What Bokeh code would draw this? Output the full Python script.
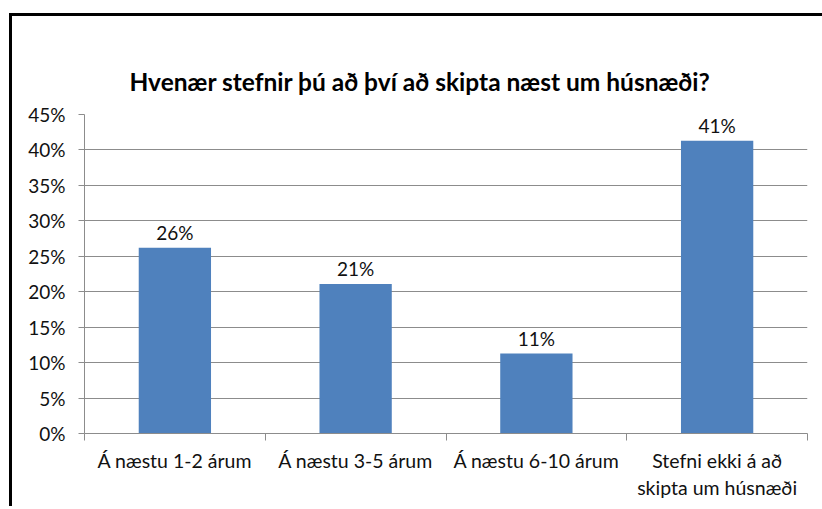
from bokeh.plotting import figure
from bokeh.models import FixedTicker, ColumnDataSource, Range1d, Title
from bokeh.core.properties import value
from bokeh.embed import file_html
from bokeh.resources import INLINE

title = "Hvenær stefnir þú að því að skipta næst um húsnæði?"
categories = ["Á næstu 1-2 árum", "Á næstu 3-5 árum", "Á næstu 6-10 árum",
              "Stefni ekki á að\nskipta um húsnæði"]
values = [26.2, 21.1, 11.3, 41.3]
y_ticks = [0, 5, 10, 15, 20, 25, 30, 35, 40, 45]
y_tick_labels = ["0%", "5%", "10%", "15%", "20%", "25%", "30%", "35%", "40%", "45%"]

FONT = "Lato"
GRID = "#8c8c8c"
BAR = "#4F81BD"
TXT = "#111111"

xs = [i + 0.5 for i in range(len(categories))]
src = ColumnDataSource(dict(x=xs, top=values, label=[f"{round(v)}%" for v in values]))

p = figure(width=810, height=493, output_backend="svg", toolbar_location=None,
           x_range=Range1d(0, len(categories)), y_range=Range1d(0, 45),
           min_border_left=72, min_border_right=15, min_border_top=98, min_border_bottom=76)
p.margin = (16, 0, 0, 12)
p.styles = {"box-shadow": "-3px -3px 0 0 black, 3px -3px 0 0 black"}

# real title (outermost panel)
p.title.text = title
p.title.align = "left"
p.title.offset = 45
p.title.vertical_align = "top"
p.title.standoff = 34
p.title.text_font = FONT
p.title.text_font_style = "bold"
p.title.text_font_size = "24.5px"
p.title.text_color = "black"

# invisible spacer title between the real title and the frame
spacer = Title(text=".", text_alpha=0, standoff=0, text_font=FONT, text_font_size="24px")
p.add_layout(spacer, "above")

p.vbar(x="x", top="top", width=0.4, source=src, color=BAR, line_color=None)
p.text(x="x", y="top", text="label", source=src, text_align="center",
       text_baseline="alphabetic", y_offset=-15, text_font=value(FONT),
       text_font_size="19px", text_color=TXT)

p.outline_line_color = None
p.background_fill_color = "white"
p.border_fill_color = "white"

p.xgrid.grid_line_color = None
p.ygrid.grid_line_color = GRID
p.ygrid.ticker = FixedTicker(ticks=y_ticks)

p.yaxis.ticker = FixedTicker(ticks=y_ticks)
p.yaxis.major_label_overrides = {t: l for t, l in zip(y_ticks, y_tick_labels)}
p.yaxis.axis_line_color = GRID
p.yaxis.major_tick_line_color = GRID
p.yaxis.major_tick_out = 6
p.yaxis.major_tick_in = 0
p.yaxis.minor_tick_line_color = None
p.yaxis.major_label_standoff = 13
p.yaxis.major_label_text_font = FONT
p.yaxis.major_label_text_font_size = "19px"
p.yaxis.major_label_text_color = TXT

p.xaxis.ticker = FixedTicker(ticks=xs, minor_ticks=list(range(len(categories) + 1)))
p.xaxis.major_label_overrides = {x: c for x, c in zip(xs, categories)}
p.xaxis.axis_line_color = GRID
p.xaxis.major_tick_line_color = None
p.xaxis.minor_tick_line_color = GRID
p.xaxis.minor_tick_out = 7
p.xaxis.minor_tick_in = 0
p.xaxis.major_tick_out = 7
p.xaxis.major_label_standoff = 8
p.xaxis.major_label_text_font = FONT
p.xaxis.major_label_text_font_size = "19.5px"
p.xaxis.major_label_text_color = TXT

open("out.html", "w").write(file_html(p, INLINE))
